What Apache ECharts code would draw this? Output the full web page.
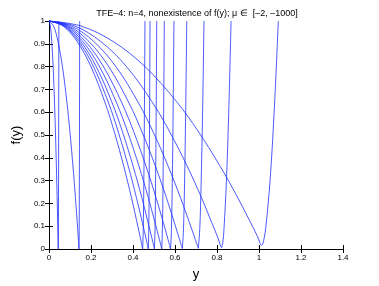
<!DOCTYPE html>
<html><head><meta charset="utf-8">
<script src="https://cdn.jsdelivr.net/npm/echarts@6/dist/echarts.min.js"></script>
<style>html,body{margin:0;padding:0;background:#fff}#c{width:379px;height:286px}</style>
</head><body><div id="c"></div>
<script>
const titleText = 'TFE–4: n=4, nonexistence of f(y); μ ∈  [–2, –1000]';
const xLabel = 'y';
const yLabel = 'f(y)';
const xTicks = [0, 0.2, 0.4, 0.6, 0.8, 1, 1.2, 1.4];
const yTicks = [0, 0.1, 0.2, 0.3, 0.4, 0.5, 0.6, 0.7, 0.8, 0.9, 1];

// [y, f(y)] samples
const curveA = [[0,1],[0.0066,0.978],[0.0132,0.91],[0.0198,0.798],[0.0264,0.64],[0.0308,0.51],[0.0352,0.36],[0.0387,0.226],[0.0414,0.116],[0.0431,0.04],[0.044,0],[0.0448,0.082],[0.0455,0.287],[0.0463,0.596],[0.047,1]];
const curveB = [[0,1],[0.0215,0.978],[0.0429,0.91],[0.0644,0.798],[0.0858,0.64],[0.1001,0.51],[0.1144,0.36],[0.1258,0.226],[0.1344,0.116],[0.1401,0.04],[0.143,0],[0.1438,0.082],[0.1445,0.287],[0.1453,0.596],[0.146,1]];
const curve1 = [[0,1],[0.0669,0.978],[0.1338,0.91],[0.2007,0.798],[0.2676,0.64],[0.3122,0.51],[0.3568,0.36],[0.3925,0.226],[0.4192,0.116],[0.4371,0.04],[0.446,0],[0.4488,0.082],[0.4515,0.287],[0.4543,0.596],[0.457,1]];
const curve2 = [[0,1],[0.0710,0.978],[0.1419,0.91],[0.2129,0.798],[0.2838,0.64],[0.3311,0.51],[0.3784,0.36],[0.4162,0.226],[0.4446,0.116],[0.4635,0.04],[0.473,0],[0.475,0.082],[0.477,0.287],[0.479,0.596],[0.481,1]];
const curve3 = [[0,1],[0.0753,0.978],[0.1506,0.91],[0.2259,0.798],[0.3012,0.64],[0.3514,0.51],[0.4016,0.36],[0.4418,0.226],[0.4719,0.116],[0.4920,0.04],[0.502,0],[0.5048,0.082],[0.5075,0.287],[0.5103,0.596],[0.513,1]];
const curve4 = [[0,1],[0.0806,0.978],[0.1611,0.91],[0.2417,0.798],[0.3222,0.64],[0.3759,0.51],[0.4296,0.36],[0.4726,0.226],[0.5048,0.116],[0.5263,0.04],[0.537,0],[0.540,0.082],[0.543,0.287],[0.546,0.596],[0.549,1]];
const curve5 = [[0,1],[0.0869,0.978],[0.1737,0.91],[0.2606,0.798],[0.3474,0.64],[0.4053,0.51],[0.4632,0.36],[0.5095,0.226],[0.5443,0.116],[0.5674,0.04],[0.579,0],[0.583,0.082],[0.587,0.287],[0.591,0.596],[0.595,1]];
const curve6 = [[0,1],[0.0953,0.978],[0.1905,0.91],[0.2858,0.798],[0.381,0.64],[0.4445,0.51],[0.508,0.36],[0.5588,0.226],[0.5969,0.116],[0.6223,0.04],[0.635,0.002],[0.6403,0.084],[0.6455,0.289],[0.6508,0.597],[0.656,1]];
const curve7 = [[0,1],[0.1067,0.978],[0.2133,0.91],[0.32,0.798],[0.4266,0.64],[0.4977,0.51],[0.5688,0.36],[0.6257,0.226],[0.6683,0.117],[0.6968,0.042],[0.711,0.003],[0.7178,0.085],[0.7245,0.29],[0.7313,0.597],[0.738,1]];
const curve8 = [[0,1],[0.1233,0.978],[0.2466,0.91],[0.3699,0.799],[0.4932,0.642],[0.5754,0.513],[0.6576,0.364],[0.7234,0.231],[0.7727,0.121],[0.8056,0.046],[0.816,0.016],[0.822,0.006],[0.828,0.03],[0.8333,0.088],[0.8445,0.291],[0.8558,0.598],[0.867,1]];
const curve9 = [[0,1],[0.152,0.978],[0.3039,0.911],[0.4559,0.801],[0.6078,0.646],[0.7091,0.518],[0.8104,0.37],[0.8914,0.238],[0.9522,0.13],[0.9927,0.055],[1.003,0.03],[1.008,0.019],[1.013,0.016],[1.018,0.022],[1.024,0.045],[1.0328,0.097],[1.0525,0.298],[1.0723,0.602],[1.092,1]];

const curves = [curveA, curveB, curve1, curve2, curve3, curve4, curve5, curve6, curve7, curve8, curve9];

// split each curve at its lowest point so that the smoothing never bends the sharp turn
function splitAtMin(d) {
  let k = 0;
  d.forEach((p, i) => { if (p[1] < d[k][1]) k = i; });
  return [d.slice(0, k + 1), d.slice(k)];
}

const chart = echarts.init(document.getElementById('c'), null, {renderer: 'canvas'});
const font = 'Liberation Sans, Arial, Helvetica, sans-serif';
const axisCommon = {
  axisLine: {show: true, lineStyle: {color: '#000', width: 1}},
  axisTick: {show: true, inside: true, length: 4, lineStyle: {color: '#000', width: 1}},
  splitLine: {show: false}
};
const series = [];
curves.forEach(d => {
  splitAtMin(d).forEach(part => {
    series.push({
      type: 'line', data: part, showSymbol: false, symbol: 'none', clip: true,
      smooth: 0.35, xAxisIndex: 0, yAxisIndex: 0,
      lineStyle: {color: '#2030ff', width: 0.8}, silent: true
    });
  });
});
chart.setOption({
  animation: false,
  backgroundColor: '#fff',
  title: {
    text: titleText, left: 192, top: 4, textAlign: 'center',
    textStyle: {fontFamily: font, fontSize: 9, fontWeight: 'normal', color: '#000'}
  },
  grid: {left: 49, right: 36, top: 21, bottom: 33, containLabel: false},
  xAxis: [
    Object.assign({}, axisCommon, {
      type: 'value', min: 0, max: 1.4, interval: 0.2, position: 'bottom',
      name: xLabel, nameLocation: 'middle', nameGap: 19,
      nameTextStyle: {fontFamily: font, fontSize: 13, color: '#000'},
      axisLabel: {fontFamily: font, fontSize: 8, color: '#000', margin: 5,
        formatter: v => String(+v.toFixed(1))}
    }),
    Object.assign({}, axisCommon, {
      type: 'value', min: 0, max: 1.4, interval: 0.2, position: 'top',
      axisLabel: {show: false}
    })
  ],
  yAxis: [
    Object.assign({}, axisCommon, {
      type: 'value', min: 0, max: 1, interval: 0.1, position: 'left',
      name: yLabel, nameLocation: 'middle', nameGap: 22,
      nameTextStyle: {fontFamily: font, fontSize: 13, color: '#000'},
      axisLabel: {fontFamily: font, fontSize: 8, color: '#000', margin: 4,
        formatter: v => String(+v.toFixed(1))}
    }),
    Object.assign({}, axisCommon, {
      type: 'value', min: 0, max: 1, interval: 0.1, position: 'right',
      axisLabel: {show: false}
    })
  ],
  series: series
});
</script></body></html>
